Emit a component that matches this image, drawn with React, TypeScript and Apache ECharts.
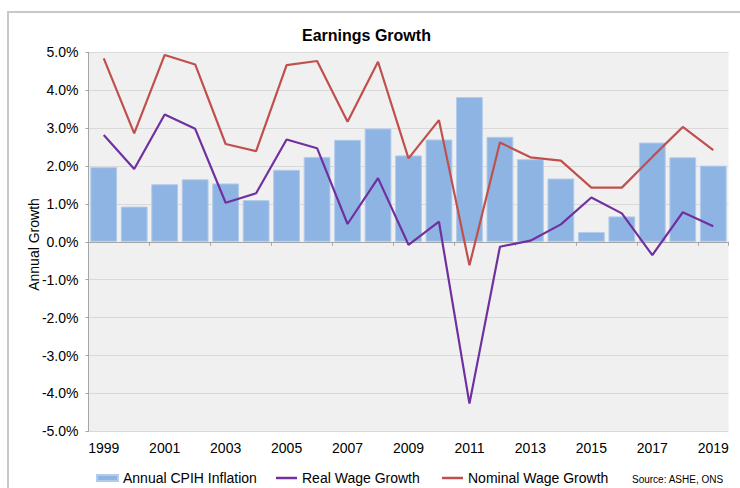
import React, { useEffect, useRef } from "react";
import * as echarts from "echarts";

const years = ["1999","2000","2001","2002","2003","2004","2005","2006","2007","2008","2009","2010","2011","2012","2013","2014","2015","2016","2017","2018","2019"];
const cpihInflation = [1.97,0.93,1.52,1.65,1.54,1.10,1.90,2.24,2.69,2.99,2.28,2.70,3.82,2.77,2.18,1.67,0.26,0.67,2.62,2.23,2.01];
const realWageGrowth = [2.82,1.92,3.36,2.98,1.03,1.28,2.70,2.47,0.47,1.68,-0.08,0.53,-4.27,-0.13,0.03,0.46,1.17,0.75,-0.35,0.78,0.41];
const nominalWageGrowth = [4.84,2.86,4.93,4.68,2.58,2.39,4.66,4.77,3.17,4.75,2.20,3.21,-0.62,2.62,2.23,2.14,1.43,1.43,2.24,3.03,2.42];
const seriesNames = ["Annual CPIH Inflation", "Real Wage Growth", "Nominal Wage Growth"];
const titleText = "Earnings Growth";
const yAxisName = "Annual Growth";
const sourceText = "Source: ASHE, ONS";

const FONT = "'Liberation Sans', Arial, sans-serif";

export default function App() {
  const ref = useRef<HTMLDivElement>(null);
  useEffect(() => {
    if (!ref.current) return;
    const chart = echarts.init(ref.current, null, { renderer: "svg" });
    const legendBase = {
      top: 471,
      padding: 0,
      itemWidth: 21,
      textStyle: { fontSize: 14, color: "#000", fontFamily: FONT },
      selectedMode: false,
    };
    chart.setOption({
      animation: false,
      backgroundColor: "#fff",
      textStyle: { fontFamily: FONT },
      title: {
        text: titleText,
        left: 302,
        top: 27,
        padding: 0,
        textStyle: { fontSize: 16, fontWeight: "bold", color: "#000", fontFamily: FONT },
      },
      graphic: [
        {
          type: "rect",
          shape: { x: 8, y: 12, width: 800, height: 600 },
          style: { fill: "none", stroke: "#C8C8C8", lineWidth: 2 },
          silent: true,
        },
        {
          type: "text",
          x: 632,
          y: 479,
          style: { text: sourceText, fontSize: 10, fill: "#000", fontFamily: FONT, verticalAlign: "middle" },
        },
        {
          type: "text",
          x: 33.5,
          y: 244.5,
          rotation: Math.PI / 2,
          style: { text: yAxisName, fontSize: 14, fill: "#000", fontFamily: FONT, align: "center", verticalAlign: "middle" },
        },
      ],
      legend: [
        { ...legendBase, left: 96, itemHeight: 6, data: [{ name: seriesNames[0], icon: "rect" }] },
        { ...legendBase, left: 276, itemHeight: 2.5, data: [{ name: seriesNames[1], icon: "rect" }] },
        { ...legendBase, left: 442, itemHeight: 2.5, data: [{ name: seriesNames[2], icon: "rect" }] },
      ],
      grid: { left: 88.5, top: 52.3, width: 640, height: 379, backgroundColor: "#F0F0F0", show: true, borderWidth: 0 },
      xAxis: [
        {
          type: "category",
          data: years,
          position: "bottom",
          axisLine: { show: false, onZero: false },
          axisTick: { show: false },
          axisLabel: { interval: 1, fontSize: 14, color: "#000", margin: 10, fontFamily: FONT },
          splitLine: { show: false },
        },
        {
          type: "category",
          data: years,
          position: "bottom",
          axisLine: { show: true, onZero: true, lineStyle: { color: "#A6A6A6", width: 1 } },
          axisTick: { show: true, interval: 1, length: 4, lineStyle: { color: "#A6A6A6" } },
          axisLabel: { show: false },
          splitLine: { show: false },
        },
      ],
      yAxis: {
        type: "value",
        min: -5,
        max: 5,
        interval: 1,
        axisLine: { show: true, lineStyle: { color: "#A6A6A6" } },
        axisTick: { show: true, length: 3, lineStyle: { color: "#A6A6A6" } },
        axisLabel: { fontSize: 14, color: "#000", margin: 10, fontFamily: FONT, formatter: (v: number) => v.toFixed(1) + "%" },
        splitLine: { show: true, lineStyle: { color: "#D9D9D9", width: 1 } },
      },
      series: [
        {
          name: seriesNames[0],
          type: "bar",
          data: cpihInflation,
          xAxisIndex: 0,
          barCategoryGap: "12%",
          itemStyle: { color: "#8DB4E2", borderColor: "#B4CCEC", borderWidth: 1 },
        },
        {
          name: seriesNames[1],
          type: "line",
          data: realWageGrowth,
          xAxisIndex: 0,
          symbol: "none",
          lineStyle: { color: "#7030A0", width: 2.2 },
          itemStyle: { color: "#7030A0" },
        },
        {
          name: seriesNames[2],
          type: "line",
          data: nominalWageGrowth,
          xAxisIndex: 0,
          symbol: "none",
          lineStyle: { color: "#C0504D", width: 2.2 },
          itemStyle: { color: "#C0504D" },
        },
      ],
    });
    return () => chart.dispose();
  }, []);
  return <div ref={ref} style={{ position: "absolute", left: 0, top: 0, width: 740, height: 488 }} />;
}
